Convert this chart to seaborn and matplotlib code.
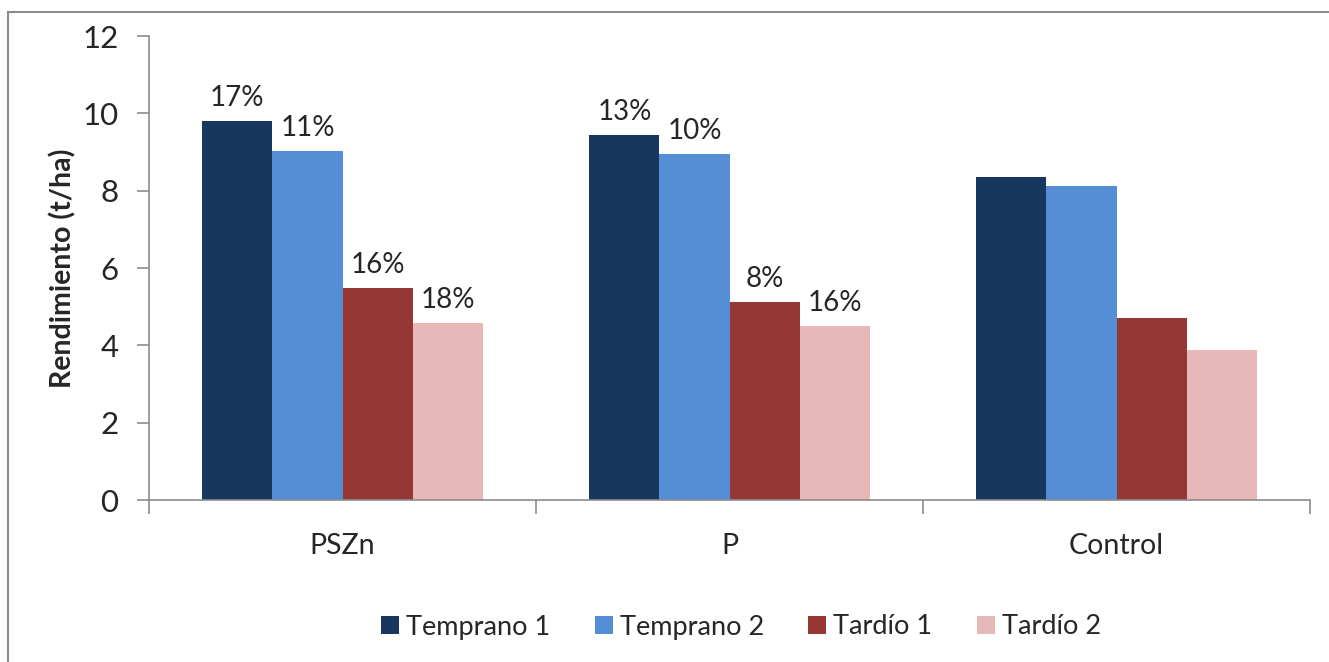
import matplotlib
matplotlib.use("Agg")
import matplotlib.pyplot as plt
import seaborn as sns
import pandas as pd
from matplotlib.patches import Rectangle

# Yield by fertilisation treatment and sowing date
categories = ["PSZn", "P", "Control"]
series = ["Temprano 1", "Temprano 2", "Tardío 1", "Tardío 2"]
temprano1 = [9.80, 9.44, 8.35]
temprano2 = [9.03, 8.95, 8.12]
tardio1 = [5.48, 5.12, 4.71]
tardio2 = [4.58, 4.50, 3.88]
# Yield increase over the control
pct_labels = {
    "Temprano 1": ["17%", "13%", ""],
    "Temprano 2": ["11%", "10%", ""],
    "Tardío 1": ["16%", "8%", ""],
    "Tardío 2": ["18%", "16%", ""],
}
colors = ["#17375E", "#558ED5", "#953735", "#E6B9B8"]
yticks = [0, 2, 4, 6, 8, 10, 12]

values = {"Temprano 1": temprano1, "Temprano 2": temprano2,
          "Tardío 1": tardio1, "Tardío 2": tardio2}
rows = []
for s in series:
    for c, v in zip(categories, values[s]):
        rows.append({"Tratamiento": c, "Serie": s, "Rendimiento": v})
df = pd.DataFrame(rows)

sns.set_theme(style="white")
plt.rcParams["font.family"] = ["Lato", "DejaVu Sans"]

fig = plt.figure(figsize=(13.29, 6.62), dpi=100)
ax = fig.add_axes([149 / 1329, 1 - 500 / 662, (1310 - 149) / 1329, (500 - 36) / 662])

sns.barplot(data=df, x="Tratamiento", y="Rendimiento", hue="Serie",
            order=categories, hue_order=series, palette=colors,
            width=0.724, saturation=1, ax=ax, legend=True,
            edgecolor="none", linewidth=0)

for cont, s in zip(ax.containers, series):
    ax.bar_label(cont, labels=pct_labels[s], padding=7, fontsize=20)

ax.set_xlim(-0.5, 2.5)
ax.set_ylim(0, 12)
ax.set_yticks(yticks)
ax.set_yticklabels([str(t) for t in yticks], fontsize=22.5)
ax.set_xticks([-0.5, 0.5, 1.5, 2.5], minor=False)
ax.set_xticklabels([])
ax.set_xticks([0, 1, 2], minor=True)
ax.set_xticklabels(categories, minor=True, fontsize=20.5)
ax.tick_params(axis="x", which="major", length=10, width=1.2, color="#8C8C8C", direction="out", bottom=True)
ax.tick_params(axis="x", which="minor", length=0, pad=24)
ax.tick_params(axis="y", length=9, width=1.2, color="#8C8C8C", direction="out", left=True, pad=13)
ax.set_xlabel("")
ax.set_ylabel("Rendimiento (t/ha)", fontsize=20.5, fontweight="bold", labelpad=4)

for side in ["top", "right"]:
    ax.spines[side].set_visible(False)
for side in ["left", "bottom"]:
    ax.spines[side].set_color("#8C8C8C")
    ax.spines[side].set_linewidth(1.2)

leg = ax.get_legend()
handles = leg.legend_handles
leg.remove()
fig.legend(handles, series, loc="center", bbox_to_anchor=(741 / 1329, 1 - 627 / 662),
           ncol=4, frameon=False, fontsize=19.5, handlelength=0.67, handleheight=0.67,
           handletextpad=0.26, columnspacing=1.63)

# chart area border
fig.patches.append(Rectangle((8 / 1329, -0.1), 1.2, 1 - 12 / 662 + 0.1,
                             transform=fig.transFigure, fill=False,
                             edgecolor="#8C8C8C", linewidth=1.5))

fig.savefig("out.png", dpi=100)
